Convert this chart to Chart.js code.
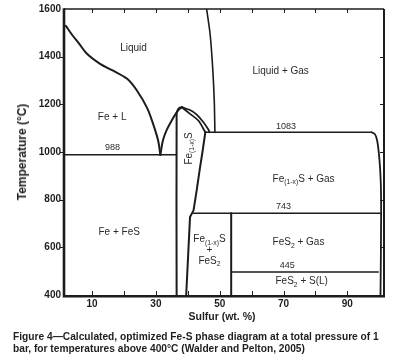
<!DOCTYPE html>
<html>
<head>
<meta charset="utf-8">
<script src="https://cdn.jsdelivr.net/npm/chart.js@4.4.1/dist/chart.umd.min.js"></script>
<style>
  html, body { margin: 0; padding: 0; background: #ffffff; }
  #wrap { position: relative; width: 401px; height: 362px; overflow: hidden; }
  #c { position: absolute; left: 0; top: 0; }
  .txt { position: absolute; white-space: nowrap; color: #1e1e1e; font-family: "Liberation Sans", Arial, Helvetica, sans-serif; font-weight: bold; }
  #ytitle { left: 22px; top: 152px; font-size: 12px; transform: translate(-50%, -50%) rotate(-90deg); }
  #xtitle { left: 222px; top: 316px; font-size: 10.5px; transform: translate(-50%, -50%); }
  #cap { left: 13px; top: 331px; font-size: 10.2px; line-height: 11.6px; }
</style>
</head>
<body>
<div id="wrap">
  <canvas id="c" width="401" height="362"></canvas>
  <div class="txt" id="ytitle">Temperature (°C)</div>
  <div class="txt" id="xtitle">Sulfur (wt. %)</div>
  <div class="txt" id="cap">Figure 4—Calculated, optimized Fe-S phase diagram at a total pressure of 1<br>bar, for temperatures above 400°C (Walder and Pelton, 2005)</div>
</div>
<script>
// ---------- axes ----------
const sulfurMin = 1.2, sulfurMax = 101.5;
const tempMin = 400, tempMax = 1600;
const sulfurTicks = [10, 20, 30, 40, 50, 60, 70, 80, 90];
const sulfurTickLabels = ['10', '', '30', '', '50', '', '70', '', '90'];
const tempTicks = [400, 600, 800, 1000, 1200, 1400, 1600];

// ---------- phase boundaries (wt.% S, °C) ----------
const feLiquidusS = [1.8, 3.6, 5.7, 8.4, 12.5, 16.6, 21.0, 24.1, 27.2, 29.1, 30.7, 31.4];
const feLiquidusT = [1529, 1494, 1459, 1412, 1370, 1341, 1307, 1257, 1186, 1119, 1048, 988];

const fesLiqFeS = [31.4, 32.2, 33.4, 35.5, 36.8, 38.1];
const fesLiqFeT = [988, 1048, 1093, 1145, 1172, 1188];

const fesSolFeS = [36.5, 36.5, 36.9, 37.4, 38.1];
const fesSolFeT = [400, 1160, 1178, 1185, 1188];

const fesLiqSS = [38.1, 40.7, 42.8, 44.9, 46.5, 46.8];
const fesLiqST = [1188, 1176, 1157, 1125, 1093, 1083];

const fesSolSS = [38.1, 40.7, 43.3, 45.5];
const fesSolST = [1188, 1160, 1132, 1083];

const pyrrhotiteEdgeS = [45.5, 44.6, 43.7, 42.8, 41.8, 40.7, 39.5];
const pyrrhotiteEdgeT = [1083, 1000, 923, 840, 755, 727, 400];

const gasEdgeS = [45.9, 47.0, 47.8, 48.3, 48.5];
const gasEdgeT = [1600, 1494, 1354, 1215, 1083];

const sRichEdgeS = [97.6, 98.7, 99.4, 100.1, 100.5, 100.6, 100.4];
const sRichEdgeT = [1083, 1074, 1045, 964, 868, 727, 400];

const pyriteS = [53.6, 53.6];
const pyriteT = [400, 743];

// invariant lines
const isoStartS = [sulfurMin, 45.5, 41.8, 53.6];
const isoEndS = [36.5, 97.6, 100.6, 99.7];
const isoT = [988, 1083, 743, 497];
const isoLabels = ['988', '1083', '743', '445'];
const isoLabelS = [16.4, 70.8, 70.0, 71.2];
const isoLabelT = [1020, 1107, 772, 523];

// region labels
const regionLabels = ['Liquid', 'Liquid + Gas', 'Fe + L', 'Fe + FeS', 'Fe_{(1-x)}S + Gas', 'FeS_{2} + Gas', 'FeS_{2} + S(L)', 'Fe_{(1-x)}S', '+', 'FeS_{2}'];
const regionS = [23.0, 69.1, 16.3, 18.5, 76.3, 74.7, 75.7, 46.8, 46.8, 46.8];
const regionT = [1437, 1340, 1146, 662, 885, 620, 456, 632, 586, 542];
const verticalLabels = ['Fe_{(1-x)}S'];
const verticalS = [40.4];
const verticalT = [1015];

// ---------- build datasets ----------
const INK = '#1c1c1c';
function pts(xs, ys) { return xs.map((x, i) => ({ x: x, y: ys[i] })); }
function curve(xs, ys, w, tension) {
  return { data: pts(xs, ys), showLine: true, borderColor: INK, borderWidth: w, pointRadius: 0, tension: tension, fill: false, borderCapStyle: 'round', borderJoinStyle: 'round' };
}
const datasets = [
  curve(feLiquidusS, feLiquidusT, 2, 0.35),
  curve(fesLiqFeS, fesLiqFeT, 2, 0.3),
  curve(fesSolFeS, fesSolFeT, 2, 0.3),
  curve(fesLiqSS, fesLiqST, 1.8, 0.3),
  curve(fesSolSS, fesSolST, 1.8, 0.3),
  curve(pyrrhotiteEdgeS, pyrrhotiteEdgeT, 2, 0),
  curve(gasEdgeS, gasEdgeT, 1.6, 0.3),
  curve(sRichEdgeS, sRichEdgeT, 1.8, 0.35),
  curve(pyriteS, pyriteT, 2, 0)
];
isoT.forEach((t, i) => datasets.push(curve([isoStartS[i], isoEndS[i]], [t, t], 1.5, 0)));

// ---------- rich text helpers ----------
const FONT = '"Liberation Sans", Arial, Helvetica, sans-serif';
function parseRich(s) {
  const parts = []; const re = /_\{([^}]*)\}/g; let last = 0, m;
  while ((m = re.exec(s))) {
    if (m.index > last) parts.push({ t: s.slice(last, m.index), sub: false });
    parts.push({ t: m[1], sub: true });
    last = re.lastIndex;
  }
  if (last < s.length) parts.push({ t: s.slice(last), sub: false });
  return parts;
}
function drawRich(ctx, s, cx, cy, size, rot, color) {
  const parts = parseRich(s);
  ctx.save();
  ctx.translate(cx, cy);
  if (rot) ctx.rotate(rot);
  ctx.fillStyle = color;
  ctx.textBaseline = 'middle';
  ctx.textAlign = 'left';
  let w = 0;
  parts.forEach(p => { ctx.font = (p.sub ? size * 0.68 : size) + 'px ' + FONT; p.w = ctx.measureText(p.t).width; w += p.w; });
  let x = -w / 2;
  parts.forEach(p => { ctx.font = (p.sub ? size * 0.68 : size) + 'px ' + FONT; ctx.fillText(p.t, x, p.sub ? size * 0.32 : 0); x += p.w; });
  ctx.restore();
}

const decor = {
  id: 'decor',
  afterDatasetsDraw(chart) {
    const { ctx, chartArea: a, scales } = chart;
    const xs = scales.x, ys = scales.y;
    ctx.save();
    ctx.strokeStyle = INK;
    ctx.lineCap = 'butt';
    // frame
    ctx.lineWidth = 1.5; ctx.beginPath(); ctx.moveTo(a.left, a.top); ctx.lineTo(a.right, a.top); ctx.stroke();
    ctx.lineWidth = 2; ctx.beginPath(); ctx.moveTo(a.right, a.top); ctx.lineTo(a.right, a.bottom); ctx.stroke();
    ctx.lineWidth = 2.6; ctx.beginPath(); ctx.moveTo(a.left, a.top - 0.7); ctx.lineTo(a.left, a.bottom + 1.3); ctx.lineTo(a.right + 1, a.bottom + 1.3); ctx.stroke();
    // ticks
    ctx.lineWidth = 1;
    sulfurTicks.forEach(v => {
      const px = Math.round(xs.getPixelForValue(v)) + 0.5;
      ctx.beginPath(); ctx.moveTo(px, a.bottom); ctx.lineTo(px, a.bottom - 4); ctx.stroke();
      ctx.beginPath(); ctx.moveTo(px, a.top); ctx.lineTo(px, a.top + 4); ctx.stroke();
    });
    tempTicks.forEach(v => {
      if (v === tempMin || v === tempMax) return;
      const py = Math.round(ys.getPixelForValue(v)) + 0.5;
      ctx.beginPath(); ctx.moveTo(a.left - 4, py); ctx.lineTo(a.left, py); ctx.stroke();
      ctx.beginPath(); ctx.moveTo(a.right, py); ctx.lineTo(a.right - 4, py); ctx.stroke();
    });
    // labels
    regionLabels.forEach((s, i) => drawRich(ctx, s, xs.getPixelForValue(regionS[i]), ys.getPixelForValue(regionT[i]), 10, 0, '#2a2a2a'));
    verticalLabels.forEach((s, i) => drawRich(ctx, s, xs.getPixelForValue(verticalS[i]), ys.getPixelForValue(verticalT[i]), 10, -Math.PI / 2, '#2a2a2a'));
    isoLabels.forEach((s, i) => drawRich(ctx, s, xs.getPixelForValue(isoLabelS[i]), ys.getPixelForValue(isoLabelT[i]), 9, 0, '#2a2a2a'));
    ctx.restore();
  }
};

new Chart(document.getElementById('c'), {
  type: 'scatter',
  data: { datasets: datasets },
  options: {
    responsive: false,
    animation: false,
    devicePixelRatio: 1,
    layout: { padding: { top: 8, right: 17, left: 0, bottom: 0 } },
    plugins: { legend: { display: false }, tooltip: { enabled: false } },
    scales: {
      x: {
        type: 'linear', min: sulfurMin, max: sulfurMax,
        grid: { display: false, drawTicks: false },
        border: { display: false },
        afterBuildTicks: s => { s.ticks = sulfurTicks.map(v => ({ value: v })); },
        afterFit: s => { s.height = 67; },
        ticks: {
          autoSkip: false, maxRotation: 0, padding: 3, color: '#1e1e1e',
          font: { family: FONT, size: 10, weight: 'bold' },
          callback: (v) => { const i = sulfurTicks.indexOf(v); return i >= 0 ? sulfurTickLabels[i] : ''; }
        }
      },
      y: {
        type: 'linear', min: tempMin, max: tempMax,
        grid: { display: false, drawTicks: false },
        border: { display: false },
        afterBuildTicks: s => { s.ticks = tempTicks.map(v => ({ value: v })); },
        afterFit: s => { s.width = 64; },
        ticks: {
          autoSkip: false, padding: 3, color: '#1e1e1e',
          font: { family: FONT, size: 10, weight: 'bold' },
          callback: (v) => String(v)
        }
      }
    }
  },
  plugins: [decor]
});
</script>
</body>
</html>
